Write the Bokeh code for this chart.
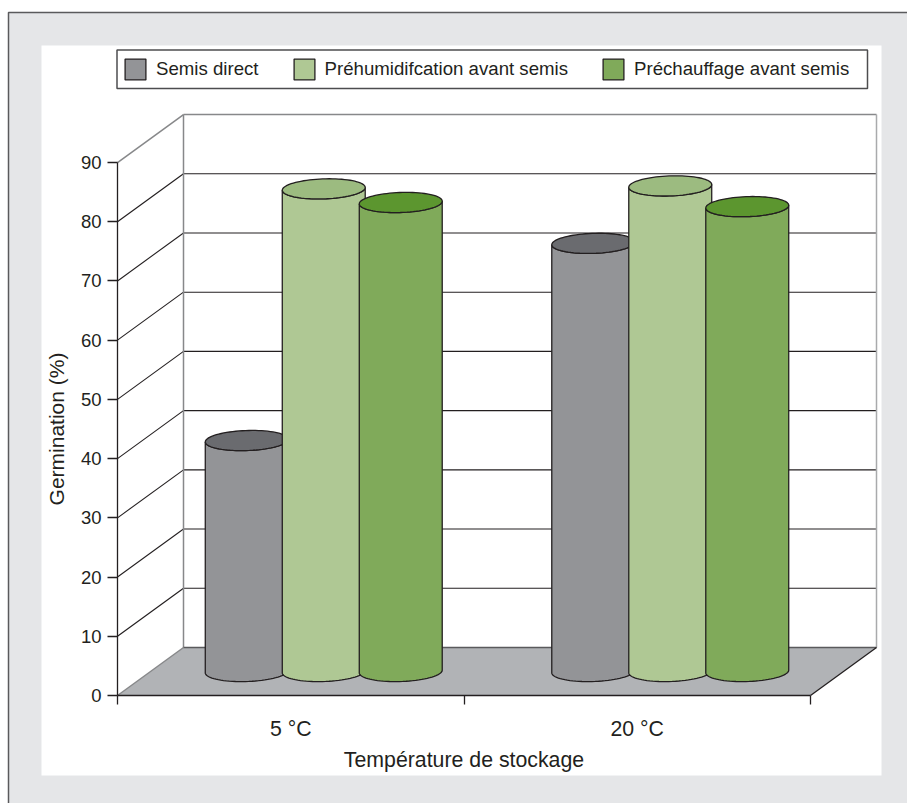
import numpy as np
from bokeh.embed import file_html
from bokeh.models import FixedTicker, Legend, LegendItem, Range1d
from bokeh.plotting import figure
from bokeh.resources import INLINE

# Germination data
categories = ["5 °C", "20 °C"]
series_names = ["Semis direct", "Préhumidifcation avant semis", "Préchauffage avant semis"]
semis_direct = [39.0, 72.3]
prehumidification = [81.5, 82.0]
prechauffage = [79.2, 78.5]
y_ticks = [0, 10, 20, 30, 40, 50, 60, 70, 80, 90]

body_colors = ["#939497", "#afc894", "#80aa5a"]
top_colors = ["#6a6b6f", "#9cbb80", "#5c962f"]
INK = "#231f20"
FONT = "Liberation Sans"

# Page geometry in pixels: the plotting area fills the page, and the data
# origin sits at the front-left corner of the floor.
W, H = 907, 803
ORIGIN_X, ORIGIN_Y = 117, 695
PX_PER_X = 346.5   # one category step
PX_PER_Y = 5.922   # one percentage point
DEPTH_PX = (66, 48)
depth_x = DEPTH_PX[0] / PX_PER_X
depth_y = DEPTH_PX[1] / PX_PER_Y

# Cylinder shape in pixels
CYL_W, CYL_H = 83, 20
TILT = np.radians(2.0)
SPACING_PX = 77


def page_x(px):
    return (px - ORIGIN_X) / PX_PER_X


def page_y(px):
    return (ORIGIN_Y - px) / PX_PER_Y


def ellipse_arc(cx, cy, t):
    """Points of a slightly tilted ellipse centred on a data position."""
    a, b = CYL_W / 2, CYL_H / 2
    ex = a * np.cos(t) * np.cos(TILT) - b * np.sin(t) * np.sin(TILT)
    ey = a * np.cos(t) * np.sin(TILT) + b * np.sin(t) * np.cos(TILT)
    return cx + ex / PX_PER_X, cy + ey / PX_PER_Y


def cylinder(cx, value):
    """Body outline and lid of a cylinder standing mid-way across the floor."""
    base = depth_y / 2
    top = base + value
    x_low, y_low = ellipse_arc(cx, base, np.linspace(np.pi, 2 * np.pi, 40))
    x_up, y_up = ellipse_arc(cx, top, np.linspace(2 * np.pi, np.pi, 40))
    x_lid, y_lid = ellipse_arc(cx, top, np.linspace(0, 2 * np.pi, 80))
    return (np.r_[x_low, x_up].tolist(), np.r_[y_low, y_up].tolist(),
            x_lid.tolist(), y_lid.tolist())


p = figure(
    width=W, height=H,
    x_range=Range1d(page_x(0), page_x(W)),
    y_range=Range1d(page_y(H), page_y(0)),
    output_backend="svg", toolbar_location=None,
    min_border=0,
    outline_line_color=None, background_fill_color="white",
    border_fill_color="white",
)
p.xgrid.visible = False
p.ygrid.visible = False

# Grey sheet with its rule, the white panel on it, and the legend's box
p.quad(left=page_x(8), right=page_x(W + 20), top=page_y(12), bottom=page_y(H + 20),
       fill_color="#e5e6e8", line_color="#5a5a5c", line_width=1.5)
p.quad(left=page_x(41), right=page_x(881), top=page_y(45), bottom=page_y(775),
       fill_color="white", line_color=None)
p.quad(left=page_x(116.5), right=page_x(867), top=page_y(49.5), bottom=page_y(88),
       fill_color="white", line_color="#4d4d4f", line_width=1.5)

# Floor
p.patch([0, 2, 2 + depth_x, depth_x], [0, 0, depth_y, depth_y],
        fill_color="#b1b3b6", line_color=None)

# Walls: rules along the side wall and across the back
inner = [v for v in y_ticks if 0 < v < 90]
p.segment([0] * len(inner), inner, [depth_x] * len(inner), [v + depth_y for v in inner],
          line_color=INK, line_width=1.1)
p.segment([depth_x] * len(inner), [v + depth_y for v in inner],
          [2 + depth_x] * len(inner), [v + depth_y for v in inner],
          line_color=INK, line_width=1.1)
# Wall edges and the floor outline
top_value = y_ticks[-1]
p.segment([0, depth_x, depth_x, 0], [top_value, top_value + depth_y, depth_y, 0],
          [depth_x, 2 + depth_x, depth_x, depth_x],
          [top_value + depth_y, top_value + depth_y, top_value + depth_y, depth_y],
          line_color="#87888a", line_width=1.5)
p.segment([2 + depth_x], [depth_y], [2 + depth_x], [top_value + depth_y],
          line_color="#a9aaac", line_width=1.5)
p.segment([depth_x], [depth_y], [2 + depth_x], [depth_y],
          line_color="#5a5a5c", line_width=1.3)
p.segment([2], [0], [2 + depth_x], [depth_y], line_color=INK, line_width=1.3)

# Cylinders, back to front within each group
bodies = []
for s, values in enumerate([semis_direct, prehumidification, prechauffage]):
    xs, ys, lid_xs, lid_ys = [], [], [], []
    for g, v in enumerate(values):
        cx = g + 0.5 + depth_x / 2 + (s - 1) * SPACING_PX / PX_PER_X
        bx, by, lx, ly = cylinder(cx, v)
        xs.append(bx); ys.append(by); lid_xs.append(lx); lid_ys.append(ly)
    bodies.append(p.patches(xs, ys, fill_color=body_colors[s], line_color=INK, line_width=1.3))
    p.patches(lid_xs, lid_ys, fill_color=top_colors[s], line_color=INK, line_width=1.3)

# Axes, pinned to the data origin
yax = p.yaxis[0]
yax.fixed_location = 0
yax.bounds = (0, 90)
yax.ticker = FixedTicker(ticks=y_ticks)
yax.axis_label = "Germination (%)"
yax.axis_label_text_font = FONT
yax.axis_label_text_font_size = "21px"
yax.axis_label_text_font_style = "normal"
yax.axis_label_text_color = INK
yax.axis_label_standoff = 10
yax.major_label_text_font = FONT
yax.major_label_text_font_size = "18.5px"
yax.major_label_text_color = INK
yax.major_label_standoff = 6
yax.major_tick_in = 0
yax.major_tick_out = 10
yax.minor_tick_in = 0
yax.minor_tick_out = 0
yax.axis_line_color = INK
yax.axis_line_width = 1.3
yax.major_tick_line_color = INK
yax.major_tick_line_width = 1.3

xax = p.xaxis[0]
xax.fixed_location = 0
xax.bounds = (0, 2)
xax.ticker = FixedTicker(ticks=[0.5, 1.5], minor_ticks=[0, 1, 2])
xax.major_label_overrides = {0.5: categories[0], 1.5: categories[1]}
xax.axis_label = "Température de stockage"
xax.axis_label_text_font = FONT
xax.axis_label_text_font_size = "21.3px"
xax.axis_label_text_font_style = "normal"
xax.axis_label_text_color = INK
xax.axis_label_standoff = 4
xax.major_label_text_font = FONT
xax.major_label_text_font_size = "21.3px"
xax.major_label_text_color = INK
xax.major_label_standoff = 12
xax.major_tick_in = 0
xax.major_tick_out = 0
xax.minor_tick_in = 0
xax.minor_tick_out = 9
xax.minor_tick_line_color = INK
xax.minor_tick_line_width = 1.3
xax.axis_line_color = INK
xax.axis_line_width = 1.3

# Legend entries; the swatch is inset within its glyph cell
legend = Legend(
    items=[LegendItem(label=n, renderers=[b]) for n, b in zip(series_names, bodies)],
    orientation="horizontal",
    location=(122, H - 81.75),
    margin=0, padding=0, spacing=32, label_standoff=8,
    glyph_width=26, glyph_height=26, label_height=26,
    label_text_font=FONT, label_text_font_size="18.65px", label_text_color=INK,
    border_line_color=None,
    background_fill_alpha=0,
)
p.add_layout(legend, "center")

open("out.html", "w").write(file_html(p, INLINE))
